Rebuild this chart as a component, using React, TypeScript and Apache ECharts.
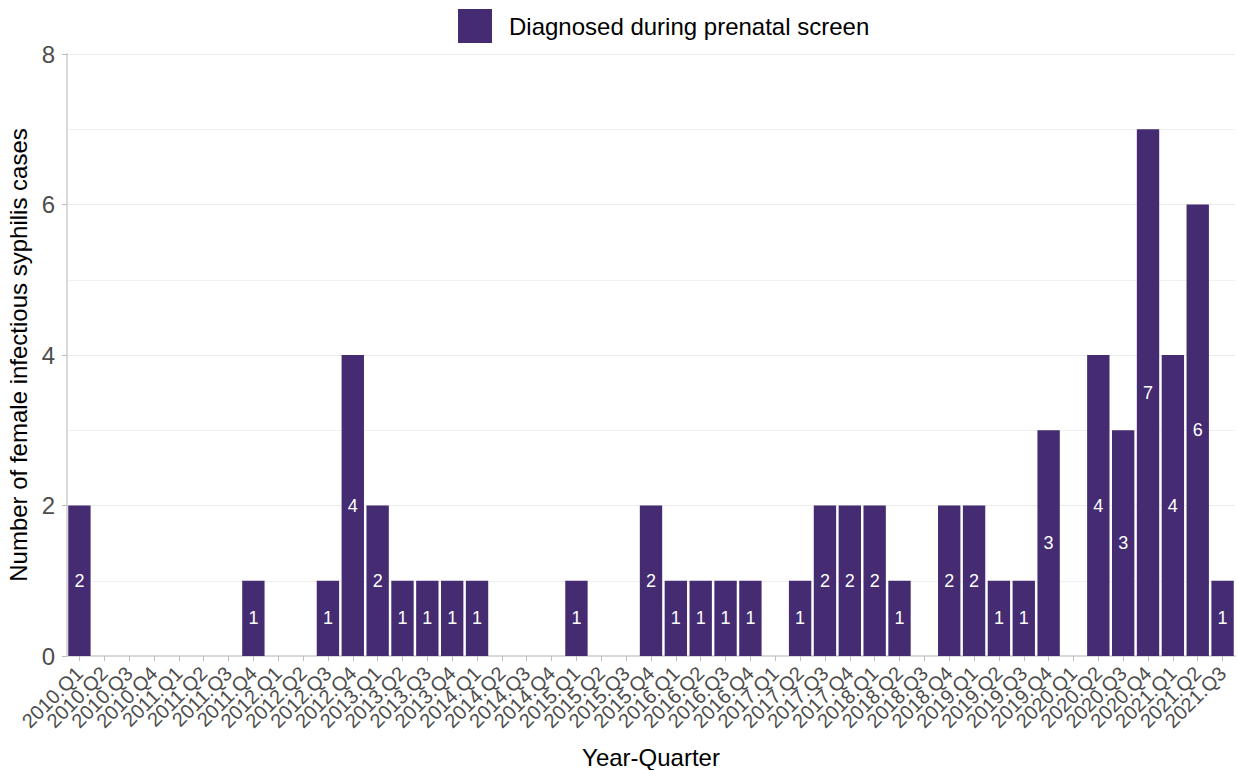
import React, { useEffect, useRef } from "react";
import * as echarts from "echarts";

const years = [2010, 2011, 2012, 2013, 2014, 2015, 2016, 2017, 2018, 2019, 2020, 2021];
const quarters = ["Q1", "Q2", "Q3", "Q4"];
const categories: string[] = [];
years.forEach((y) => quarters.forEach((q) => categories.push(`${y}.${q}`)));
categories.splice(categories.indexOf("2021.Q4"), 1);

const prenatalValues = [
  2, 0, 0, 0, // 2010
  0, 0, 0, 1, // 2011
  0, 0, 1, 4, // 2012
  2, 1, 1, 1, // 2013
  1, 0, 0, 0, // 2014
  1, 0, 0, 2, // 2015
  1, 1, 1, 1, // 2016
  0, 1, 2, 2, // 2017
  2, 1, 0, 2, // 2018
  2, 1, 1, 3, // 2019
  0, 4, 3, 7, // 2020
  4, 6, 1,    // 2021
];

const seriesName = "Diagnosed during prenatal screen";
const yTitle = "Number of female infectious syphilis cases";
const xTitle = "Year-Quarter";

export default function App() {
  const ref = useRef<HTMLDivElement>(null);
  useEffect(() => {
    if (!ref.current) return;
    const chart = echarts.init(ref.current, undefined, { renderer: "svg" });
    const font = "Liberation Sans, Arial, sans-serif";
    chart.setOption({
      animation: false,
      textStyle: { fontFamily: font },
      legend: {
        top: 4,
        left: 453,
        itemWidth: 34,
        itemHeight: 34,
        icon: "rect",
        itemGap: 10,
        textStyle: { fontSize: 24, color: "#000", fontFamily: font, padding: [0, 0, 0, 12] },
        data: [seriesName],
      },
      grid: { left: 67, right: 3, top: 54, bottom: 114, containLabel: false, outerBoundsMode: "none" },
      xAxis: {
        type: "category",
        data: categories,
        name: xTitle,
        nameLocation: "middle",
        nameGap: 89,
        nameTextStyle: { fontSize: 24, color: "#000", fontFamily: font },
        axisLine: { show: true, lineStyle: { color: "#d9d9d9", width: 2 } },
        axisTick: { show: true, alignWithLabel: true, length: 5, lineStyle: { color: "#bdbdbd" } },
        axisLabel: { rotate: 45, fontSize: 20, color: "#4d4d4d", interval: 0, margin: 14, fontFamily: font },
      },
      yAxis: {
        type: "value",
        min: 0,
        max: 8,
        interval: 2,
        name: yTitle,
        nameLocation: "middle",
        nameGap: 32,
        nameTextStyle: { fontSize: 24, color: "#000", fontFamily: font },
        axisLine: { show: true, lineStyle: { color: "#d9d9d9", width: 2 } },
        axisTick: { show: true, length: 5, lineStyle: { color: "#bdbdbd" } },
        axisLabel: { fontSize: 24, color: "#4d4d4d", margin: 12, fontFamily: font },
        splitLine: { show: true, lineStyle: { color: "#ebebeb", width: 1 } },
        minorTick: { show: false, splitNumber: 2 },
        minorSplitLine: { show: true, lineStyle: { color: "#f0f0f0", width: 1 } },
      },
      series: [
        {
          name: seriesName,
          type: "bar",
          data: prenatalValues,
          barCategoryGap: "10%",
          itemStyle: { color: "#442b72" },
          label: {
            show: true,
            position: "inside",
            color: "#ffffff",
            fontSize: 18,
            fontFamily: font,
            formatter: (p: any) => (p.value > 0 ? String(p.value) : ""),
          },
        },
      ],
    });
    return () => chart.dispose();
  }, []);
  return (
    <div
      ref={ref}
      style={{ position: "absolute", left: 0, top: 0, width: 1238, height: 770, background: "#fff" }}
    />
  );
}
